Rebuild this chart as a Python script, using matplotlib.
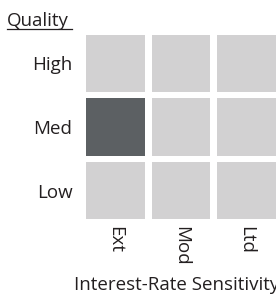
import matplotlib
matplotlib.use("Agg")
import matplotlib.pyplot as plt
from matplotlib.lines import Line2D

quality = ["High", "Med", "Low"]
sensitivity = ["Ext", "Mod", "Ltd"]
# 1 = highlighted style box cell
values = [
    [0, 0, 0],  # High
    [1, 0, 0],  # Med
    [0, 0, 0],  # Low
]

LIGHT = "#d2d1d2"
DARK = "#5c6063"
TXT = "#231f20"
FONT = "Open Sans"
FS = 13.5

W, H = 276, 295
fig = plt.figure(figsize=(W / 100, H / 100), dpi=100)

# axes placement in pixels
left_px, right_px = 82.75, 279.25
top_px, bot_px = 31.75, 222.25
ax = fig.add_axes([left_px / W, (H - bot_px) / H,
                   (right_px - left_px) / W, (bot_px - top_px) / H])

cw, ch = 0.90, 0.898
for r, q in enumerate(quality):
    y = len(quality) - 1 - r
    for c, s in enumerate(sensitivity):
        color = DARK if values[r][c] else LIGHT
        ax.bar(c, ch, width=cw, bottom=y - ch / 2, color=color, linewidth=0)

ax.set_xlim(-0.5, 2.5)
ax.set_ylim(-0.5, 2.5)
for sp in ax.spines.values():
    sp.set_visible(False)

ax.set_yticks(range(len(quality)))
ax.set_yticklabels(quality[::-1], fontsize=FS, family=FONT, color=TXT)
ax.set_xticks(range(len(sensitivity)))
ax.set_xticklabels(sensitivity, fontsize=FS, family=FONT, color=TXT,
                   rotation=270, ha="center", va="top")
ax.tick_params(axis="y", length=0, pad=7.5)
ax.tick_params(axis="x", length=0, pad=2.5)

fig.text(7 / W, (H - 26) / H, "Quality", fontsize=FS, family=FONT,
         color=TXT, ha="left", va="baseline")
fig.add_artist(Line2D([7 / W, 72 / W], [(H - 28.5) / H, (H - 28.5) / H],
                      color=TXT, linewidth=0.9))

fig.text(74 / W, (H - 290) / H, "Interest-Rate Sensitivity", fontsize=FS,
         family=FONT, color=TXT, ha="left", va="baseline")

fig.savefig("out.png", dpi=100)
